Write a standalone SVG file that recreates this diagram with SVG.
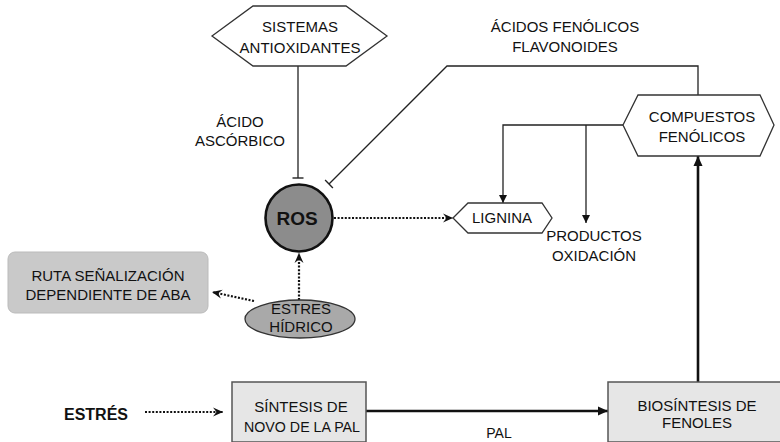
<svg xmlns="http://www.w3.org/2000/svg" width="780" height="442" viewBox="0 0 780 442">
<style>
text{font-family:"Liberation Sans",Arial,sans-serif;font-size:15px;fill:#111;text-anchor:middle}
.hex{fill:#fff;stroke:#333;stroke-width:1.3}
.solid{fill:none;stroke:#222;stroke-width:1.3}
.thick{fill:none;stroke:#111;stroke-width:2.6}
.dot{fill:none;stroke:#111;stroke-width:2.2;stroke-dasharray:2 1.6}
.box{fill:#e6e6e6;stroke:#555;stroke-width:1.5}
</style>
<defs>
<marker id="tbar" markerUnits="userSpaceOnUse" viewBox="-1 -6 2 12" refX="0" refY="0" markerWidth="2" markerHeight="12" orient="auto">
<path d="M0,-5.5 L0,5.5" stroke="#222" stroke-width="1.4"/>
</marker>
<marker id="arr" markerUnits="userSpaceOnUse" viewBox="0 0 8 8" refX="8" refY="4" markerWidth="8" markerHeight="8" orient="auto">
<path d="M0,0 L8,4 L0,8 z" fill="#111"/>
</marker>
<marker id="arrbig" markerUnits="userSpaceOnUse" viewBox="0 0 10 10" refX="10" refY="5" markerWidth="10" markerHeight="10" orient="auto">
<path d="M0,0.5 L10,5 L0,9.5 z" fill="#111"/>
</marker>
<marker id="chev" markerUnits="userSpaceOnUse" viewBox="0 0 10 10" refX="10" refY="5" markerWidth="10" markerHeight="10" orient="auto">
<path d="M0,0.5 L10,5 L0,9.5 L3.5,5 z" fill="#111"/>
</marker>
</defs>

<g id="connectors">
<path class="solid" d="M298,66 V178" marker-end="url(#tbar)"/>
<path class="solid" d="M698,95 V66 H447 L329,184" marker-end="url(#tbar)"/>
<path class="solid" d="M623,125 H503 V203" marker-end="url(#arr)"/>
<path class="solid" d="M586,125 V223" marker-end="url(#arr)"/>
<path class="dot" d="M334,218 H453" marker-end="url(#chev)"/>
<path class="dot" d="M299,300 V253" marker-end="url(#chev)"/>
<path class="dot" d="M254,301 L212,292" marker-end="url(#chev)"/>
<path class="dot" d="M145,412 H223" marker-end="url(#chev)"/>
<path class="thick" d="M366,411 H608" marker-end="url(#arrbig)"/>
<path class="thick" d="M698,382 V156" marker-end="url(#arrbig)"/>
</g>

<g id="sistemas">
<polygon class="hex" points="212,36 253,6 346,6 387,36 346,66 253,66"/>
<text x="300" y="32">SISTEMAS</text>
<text x="300" y="53">ANTIOXIDANTES</text>
</g>

<g id="acido-ascorbico">
<text x="240" y="127">ÁCIDO</text>
<text x="240" y="146">ASCÓRBICO</text>
</g>

<g id="acidos-fenolicos">
<text x="565" y="32">ÁCIDOS FENÓLICOS</text>
<text x="565" y="52">FLAVONOIDES</text>
</g>

<g id="compuestos">
<polygon class="hex" points="623,125 638,95 760,95 774,125 760,156 638,156"/>
<text x="702" y="122">COMPUESTOS</text>
<text x="702" y="142">FENÓLICOS</text>
</g>

<g id="ros">
<circle cx="299" cy="218" r="33.5" fill="#8c8c8c" stroke="#111" stroke-width="2.6"/>
<text x="297" y="225" style="font-weight:bold;font-size:19px">ROS</text>
</g>

<g id="lignina">
<polygon class="hex" points="453,218 468,203 542,203 552,218 542,233 468,233"/>
<text x="502" y="223">LIGNINA</text>
</g>

<g id="productos">
<text x="594" y="241">PRODUCTOS</text>
<text x="594" y="261">OXIDACIÓN</text>
</g>

<g id="ruta">
<rect x="8" y="252" width="200" height="61" rx="7" fill="#c9c9c9" stroke="#bbb" stroke-width="1"/>
<text x="108" y="281">RUTA SEÑALIZACIÓN</text>
<text x="108" y="300">DEPENDIENTE DE ABA</text>
</g>

<g id="estres-hidrico">
<ellipse cx="300" cy="319" rx="55" ry="19" fill="#a9a9a9" stroke="#333" stroke-width="1.3"/>
<text x="301" y="314">ESTRES</text>
<text x="301" y="332">HÍDRICO</text>
</g>

<g id="estres">
<text x="96" y="420" style="font-weight:bold;font-size:16px">ESTRÉS</text>
</g>

<g id="sintesis">
<rect class="box" x="232" y="382" width="134" height="60"/>
<text x="301" y="412">SÍNTESIS DE</text>
<text x="302" y="432" textLength="116" lengthAdjust="spacingAndGlyphs">NOVO DE LA PAL</text>
</g>

<g id="pal">
<text x="499" y="438" style="font-size:14px">PAL</text>
</g>

<g id="biosintesis">
<rect class="box" x="608" y="382" width="175" height="60"/>
<text x="697" y="411">BIOSÍNTESIS DE</text>
<text x="697" y="428">FENOLES</text>
</g>
</svg>
